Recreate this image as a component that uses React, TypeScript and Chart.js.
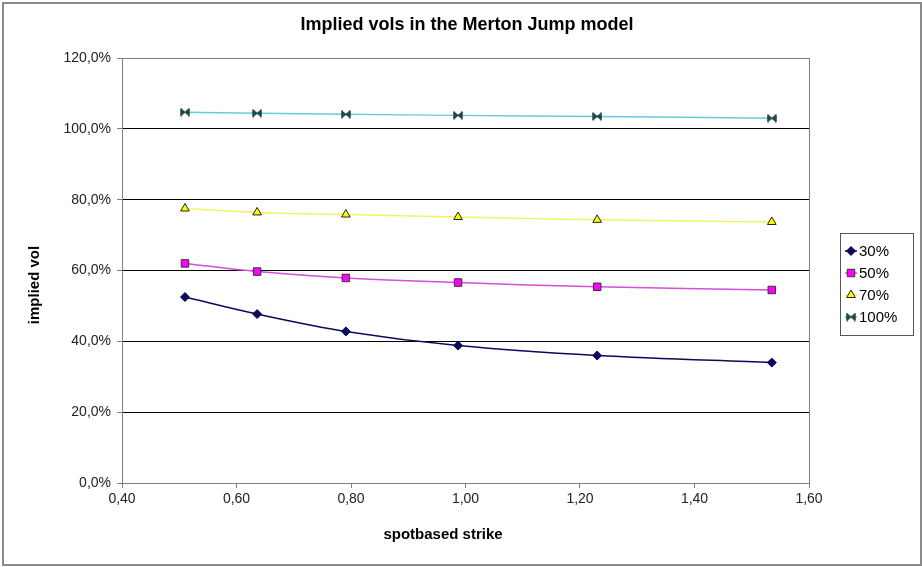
import React, { useEffect, useRef } from "react";
import { Chart, registerables } from "chart.js";

Chart.register(...registerables);

const strikes = [0.51, 0.636, 0.791, 0.987, 1.23, 1.535];
const seriesLabels = ["30%", "50%", "70%", "100%"];
const vol30 = [52.5, 47.7, 42.8, 38.8, 36.0, 34.0];
const vol50 = [62.0, 59.7, 57.9, 56.6, 55.4, 54.5];
const vol70 = [77.5, 76.4, 75.8, 75.1, 74.3, 73.7];
const vol100 = [104.7, 104.4, 104.1, 103.8, 103.5, 103.0];
const xTicks = [0.4, 0.6, 0.8, 1.0, 1.2, 1.4, 1.6];
const yTicks = [0, 20, 40, 60, 80, 100, 120];

const FONT = "'Liberation Sans', Arial, sans-serif";

function makeBowtie(): HTMLCanvasElement {
  const c = document.createElement("canvas");
  c.width = 10;
  c.height = 9;
  const g = c.getContext("2d")!;
  g.fillStyle = "#1f4a4a";
  g.strokeStyle = "#102828";
  g.lineWidth = 1;
  g.beginPath();
  g.moveTo(1, 1);
  g.lineTo(5, 4.5);
  g.lineTo(1, 8);
  g.closePath();
  g.moveTo(9, 1);
  g.lineTo(5, 4.5);
  g.lineTo(9, 8);
  g.closePath();
  g.fill();
  g.stroke();
  g.fillRect(0.5, 0.5, 1.5, 8);
  g.fillRect(8, 0.5, 1.5, 8);
  return c;
}

export default function App() {
  const ref = useRef<HTMLCanvasElement | null>(null);
  useEffect(() => {
    document.body.style.margin = "0";
    const bowtie = makeBowtie();
    const series = [vol30, vol50, vol70, vol100];
    const styles = [
      { line: "#0a0a5a", fill: "#0a0a5a", border: "#0a0a5a", ps: "rectRot" as any, r: 4.5 },
      { line: "#d64fd6", fill: "#ff00ff", border: "#333333", ps: "rect" as any, r: 5.3 },
      { line: "#f2f266", fill: "#ffff00", border: "#222222", ps: "triangle" as any, r: 5 },
      { line: "#5fcfd6", fill: "#1f4a4a", border: "#1f4a4a", ps: bowtie as any, r: 5 },
    ];
    const datasets = series.map((vals, i) => ({
      label: seriesLabels[i],
      data: vals.map((v, j) => ({ x: strikes[j], y: v })),
      borderColor: styles[i].line,
      borderWidth: 1.5,
      pointStyle: styles[i].ps,
      pointRadius: styles[i].r,
      pointBackgroundColor: styles[i].fill,
      pointBorderColor: styles[i].border,
      pointBorderWidth: 1,
      tension: 0.35,
      fill: false,
    }));

    const drawMarker = (c: CanvasRenderingContext2D, i: number, x: number, y: number) => {
      const st = styles[i];
      c.save();
      c.fillStyle = st.fill;
      c.strokeStyle = st.border;
      c.lineWidth = 1;
      c.beginPath();
      if (i === 0) {
        const r = st.r;
        c.moveTo(x, y - r);
        c.lineTo(x + r, y);
        c.lineTo(x, y + r);
        c.lineTo(x - r, y);
        c.closePath();
        c.fill();
        c.stroke();
      } else if (i === 1) {
        const h = st.r * Math.SQRT1_2;
        c.rect(x - h, y - h, 2 * h, 2 * h);
        c.fill();
        c.stroke();
      } else if (i === 2) {
        const r = st.r;
        c.moveTo(x, y - r);
        c.lineTo(x + r * 0.866, y + r * 0.5);
        c.lineTo(x - r * 0.866, y + r * 0.5);
        c.closePath();
        c.fill();
        c.stroke();
      } else {
        c.drawImage(bowtie, x - 5, y - 4.5);
      }
      c.restore();
    };

    const decor = {
      id: "decor",
      beforeDraw(chart: any) {
        const c = chart.ctx;
        c.save();
        c.fillStyle = "#ffffff";
        c.fillRect(0, 0, chart.width, chart.height);
        c.restore();
      },
      afterDraw(chart: any) {
        const c = chart.ctx;
        const a = chart.chartArea;
        c.save();
        c.strokeStyle = "#8a8a8a";
        c.lineWidth = 2;
        c.strokeRect(3, 3, chart.width - 4, chart.height - 5);
        c.strokeStyle = "#808080";
        c.lineWidth = 1;
        c.beginPath();
        c.moveTo(a.right + 0.5, a.top);
        c.lineTo(a.right + 0.5, a.bottom);
        c.stroke();
        c.fillStyle = "#000";
        c.textAlign = "center";
        c.textBaseline = "middle";
        c.font = `bold 18px ${FONT}`;
        c.fillText("Implied vols in the Merton Jump model", 467, 25);
        c.font = `bold 15px ${FONT}`;
        c.fillText("spotbased strike", 443, 535);
        c.save();
        c.translate(35, 285);
        c.rotate(-Math.PI / 2);
        c.fillText("implied vol", 0, 0);
        c.restore();
        const bx = 840, by = 233, bw = 73, bh = 102;
        c.strokeStyle = "#555";
        c.lineWidth = 1;
        c.strokeRect(bx + 0.5, by + 0.5, bw, bh);
        const rows = [251, 273, 295, 317];
        chart.data.datasets.forEach((ds: any, i: number) => {
          const y = rows[i];
          c.strokeStyle = ds.borderColor;
          c.lineWidth = 1.5;
          c.beginPath();
          c.moveTo(845, y);
          c.lineTo(857, y);
          c.stroke();
          drawMarker(c, i, 851, y);
          c.fillStyle = "#000";
          c.textAlign = "left";
          c.font = `15px ${FONT}`;
          c.fillText(ds.label, 859, y + 1);
        });
        c.restore();
      },
    };

    const chart = new Chart(ref.current!, {
      type: "line",
      data: { datasets },
      options: {
        animation: false,
        responsive: false,
        events: [],
        layout: { padding: { top: 58, right: 113, left: 0, bottom: 0 } },
        plugins: {
          legend: { display: false },
          title: { display: false },
          tooltip: { enabled: false },
        },
        scales: {
          x: {
            type: "linear",
            min: 0.4,
            max: 1.6,
            afterFit: (s: any) => {
              s.height = 84;
            },
            afterBuildTicks: (s: any) => {
              s.ticks = xTicks.map((v) => ({ value: v }));
            },
            ticks: {
              padding: 3,
              color: "#222",
              font: { family: FONT, size: 14 },
              callback: (v: any) => Number(v).toFixed(2).replace(".", ","),
            },
            grid: {
              drawOnChartArea: false,
              drawTicks: true,
              tickLength: 5,
              tickColor: "#808080",
            },
            border: { color: "#808080", width: 1 },
          },
          y: {
            min: 0,
            max: 120,
            afterFit: (s: any) => {
              s.width = 122;
            },
            afterBuildTicks: (s: any) => {
              s.ticks = yTicks.map((v) => ({ value: v }));
            },
            ticks: {
              padding: 6,
              color: "#222",
              font: { family: FONT, size: 14 },
              callback: (v: any) => Number(v).toFixed(1).replace(".", ",") + "%",
            },
            grid: {
              color: (ctx: any) =>
                ctx.tick && (ctx.tick.value === 120 || ctx.tick.value === 0)
                  ? "#808080"
                  : "#000000",
              lineWidth: 1,
              drawTicks: true,
              tickLength: 5,
              tickColor: "#808080",
            },
            border: { color: "#808080", width: 1 },
          },
        },
      },
      plugins: [decor],
    } as any);
    return () => chart.destroy();
  }, []);
  return (
    <div style={{ position: "absolute", left: 0, top: 0, width: 922, height: 567 }}>
      <canvas ref={ref} width={922} height={567} style={{ display: "block", width: 922, height: 567 }} />
    </div>
  );
}
